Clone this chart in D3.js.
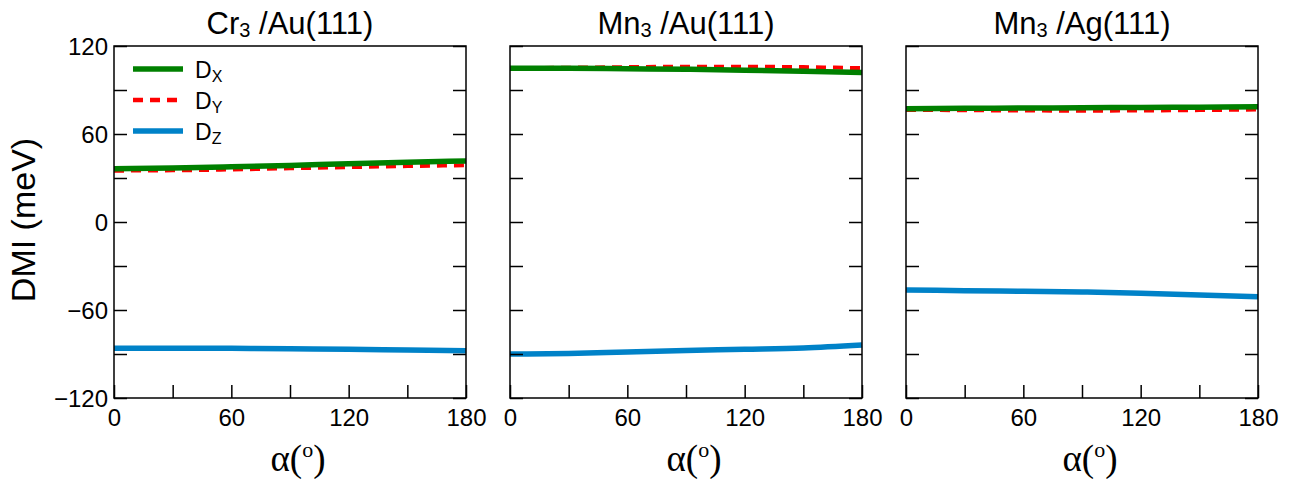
<!DOCTYPE html>
<html>
<head>
<meta charset="utf-8">
<script src="https://cdn.jsdelivr.net/npm/d3@7"></script>
<style>
  html, body { margin: 0; padding: 0; background: #fff; }
  svg { display: block; }
  text { font-family: "Liberation Sans", Arial, Helvetica, sans-serif; fill: #000; }
</style>
</head>
<body>
<svg id="chart" width="1294" height="479"></svg>
<script>
// ---- data ----
const alpha = [0, 30, 60, 90, 120, 150, 180];
const panelNames = ["Cr", "Mn", "Mn"];
const panelSubstrates = ["/Au(111)", "/Au(111)", "/Ag(111)"];
const seriesNames = ["X", "Y", "Z"];
const xTicks = [0, 60, 120, 180];
const yTicks = [-120, -60, 0, 60, 120];

const crAuDx = [36.3, 36.8, 37.6, 38.6, 39.8, 40.8, 41.6];
const crAuDy = [35.0, 35.2, 35.8, 36.6, 37.4, 38.1, 38.7];
const crAuDz = [-86.1, -86.0, -86.1, -86.4, -86.8, -87.2, -87.7];

const mnAuDx = [104.8, 104.8, 104.5, 104.1, 103.5, 102.8, 101.9];
const mnAuDy = [104.8, 105.2, 105.6, 105.9, 105.9, 105.6, 104.9];
const mnAuDz = [-90.0, -89.6, -88.6, -87.6, -86.8, -85.9, -83.9];

const mnAgDx = [77.3, 77.5, 77.7, 77.9, 78.1, 78.3, 78.6];
const mnAgDy = [76.4, 76.2, 76.0, 75.9, 76.0, 76.3, 76.7];
const mnAgDz = [-46.4, -46.8, -47.2, -47.7, -48.5, -49.7, -51.0];

const panels = [
  { dx: crAuDx, dy: crAuDy, dz: crAuDz },
  { dx: mnAuDx, dy: mnAuDy, dz: mnAuDz },
  { dx: mnAgDx, dy: mnAgDy, dz: mnAgDz }
];

// ---- layout ----
const svg = d3.select("#chart");
const panelW = 352, gap = 44, left0 = 114, plotTop = 46, plotBottom = 398;
const colors = { X: "#008000", Y: "#ff0000", Z: "#0082c8" };

const y = d3.scaleLinear().domain([-120, 120]).range([plotBottom, plotTop]);

panels.forEach((p, i) => {
  const x0 = left0 + i * (panelW + gap);
  const x = d3.scaleLinear().domain([0, 180]).range([x0, x0 + panelW]);
  const g = svg.append("g");

  const line = d3.line().x((d, k) => x(alpha[k])).y(d => y(d)).curve(d3.curveMonotoneX);

  g.append("path").datum(p.dy).attr("d", line).attr("fill", "none")
    .attr("stroke", colors.Y).attr("stroke-width", 4).attr("stroke-dasharray", "10,7");
  g.append("path").datum(p.dx).attr("d", line).attr("fill", "none")
    .attr("stroke", colors.X).attr("stroke-width", 5.5);
  g.append("path").datum(p.dz).attr("d", line).attr("fill", "none")
    .attr("stroke", colors.Z).attr("stroke-width", 5.5);

  const xAxis = d3.axisBottom(x).tickValues(d3.range(0, 181, 30)).tickSizeInner(-13).tickSizeOuter(0)
    .tickFormat(d => xTicks.includes(d) ? d : "");
  const gx = g.append("g").attr("transform", `translate(0,${plotBottom})`).call(xAxis);
  gx.select(".domain").remove();
  gx.selectAll(".tick line").attr("stroke", "#000").attr("stroke-width", 1.5);
  gx.selectAll(".tick text").attr("font-size", 24).attr("dy", 0).attr("y", 28)
    .attr("font-family", "Liberation Sans, Arial, sans-serif");

  const yAxisL = d3.axisLeft(y).tickValues(d3.range(-120, 121, 30)).tickSizeInner(-13).tickSizeOuter(0)
    .tickFormat(d => (i === 0 && yTicks.includes(d)) ? String(d).replace("-", "\u2212") : "");
  const gyl = g.append("g").attr("transform", `translate(${x0},0)`).call(yAxisL);
  gyl.select(".domain").remove();
  gyl.selectAll(".tick line").attr("stroke", "#000").attr("stroke-width", 1.5);
  gyl.selectAll(".tick text").attr("font-size", 24).attr("x", -6).attr("dy", "0.35em")
    .attr("font-family", "Liberation Sans, Arial, sans-serif");

  const yAxisR = d3.axisRight(y).tickValues(d3.range(-120, 121, 30)).tickSizeInner(-13).tickSizeOuter(0)
    .tickFormat("");
  const gyr = g.append("g").attr("transform", `translate(${x0 + panelW},0)`).call(yAxisR);
  gyr.select(".domain").remove();
  gyr.selectAll(".tick line").attr("stroke", "#000").attr("stroke-width", 1.5);

  g.append("rect").attr("x", x0).attr("y", plotTop).attr("width", panelW).attr("height", plotBottom - plotTop)
    .attr("fill", "none").attr("stroke", "#000").attr("stroke-width", 1.5);

  const t = g.append("text").attr("x", x0 + panelW / 2).attr("y", 34)
    .attr("text-anchor", "middle").attr("font-size", 31);
  t.append("tspan").text(panelNames[i]);
  t.append("tspan").attr("font-size", 20).attr("dy", 3).text("3");
  t.append("tspan").attr("dy", -3).text(" " + panelSubstrates[i]);

  const xl = g.append("text").attr("x", x0 + panelW / 2 + 8).attr("y", 471)
    .attr("text-anchor", "middle").attr("font-size", 37)
    .style("font-family", "'Liberation Serif', 'Times New Roman', serif");
  xl.append("tspan").text("α(");
  xl.append("tspan").attr("font-size", 22).attr("dy", -14).text("o");
  xl.append("tspan").attr("dy", 14).text(")");
});

svg.append("text").attr("transform", `translate(35,220) rotate(-90)`)
  .attr("text-anchor", "middle").attr("font-size", 34).text("DMI (meV)");

const legY = [69, 100, 131];
seriesNames.forEach((s, k) => {
  const lg = svg.append("g");
  lg.append("line").attr("x1", 133).attr("x2", 183).attr("y1", legY[k]).attr("y2", legY[k])
    .attr("stroke", colors[s]).attr("stroke-width", s === "Y" ? 4.5 : 5.5)
    .attr("stroke-dasharray", s === "Y" ? "10,7" : null);
  const tx = lg.append("text").attr("x", 195).attr("y", legY[k] + 9).attr("font-size", 23);
  tx.append("tspan").text("D");
  tx.append("tspan").attr("font-size", 16).attr("dy", 4).text(s);
});
</script>
</body>
</html>
